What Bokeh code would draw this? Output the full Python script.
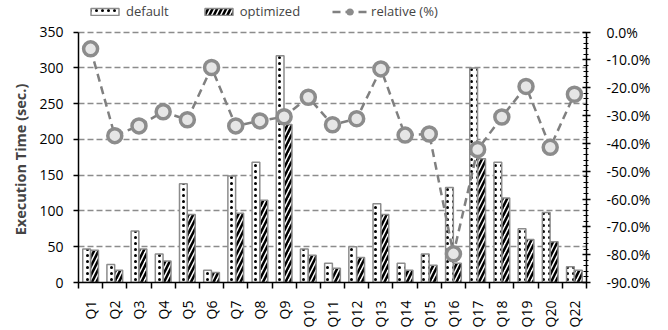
from bokeh.plotting import figure
from bokeh.models import (Range1d, LinearAxis, FixedTicker, SingleIntervalTicker,
                          PrintfTickFormatter, CustomJSTickFormatter, Legend, LegendItem,
                          ColumnDataSource)
from bokeh.embed import file_html
from bokeh.resources import INLINE

categories = ["Q1", "Q2", "Q3", "Q4", "Q5", "Q6", "Q7", "Q8", "Q9", "Q10", "Q11",
              "Q12", "Q13", "Q14", "Q15", "Q16", "Q17", "Q18", "Q19", "Q20", "Q22"]
default = [47, 25, 72, 40, 138, 17, 149, 168, 317, 47, 27, 50, 110, 27, 40, 133, 300, 168, 75, 98, 22]
optimized = [45, 17, 47, 30, 95, 14, 97, 115, 221, 38, 20, 35, 95, 17, 24, 27, 173, 118, 60, 57, 17]
relative = [-6.0, -37.2, -33.7, -28.6, -31.5, -12.7, -33.7, -31.9, -30.4, -23.4, -33.3,
            -31.1, -13.2, -37.0, -36.6, -79.7, -42.2, -30.5, -19.5, -41.4, -22.3]
left_bounds = (0, 350)
right_bounds = (-90, 0)
left_ticks_step = 50
right_ticks_step = 10

FONT = "Open Sans"
n = len(categories)
idx = list(range(n))
src = ColumnDataSource(dict(
    x_def=[i - 0.165 for i in idx],
    x_opt=[i + 0.165 for i in idx],
    x=idx,
    default=default, optimized=optimized, relative=relative))

# Frame spans from y=2 to y=285; the axes themselves only cover 253 px (bounds)
FRAME_H = 283.0
AXIS_H = 253.0
ext = FRAME_H / AXIS_H
left_top = left_bounds[0] + (left_bounds[1] - left_bounds[0]) * ext
right_top = right_bounds[0] + (right_bounds[1] - right_bounds[0]) * ext

p = figure(width=668, height=330, x_range=Range1d(-0.5, n - 0.5),
           y_range=Range1d(left_bounds[0], left_top),
           output_backend="svg", toolbar_location=None,
           min_border_left=78, min_border_right=82, min_border_top=2, min_border_bottom=45)
p.extra_y_ranges = {"pct": Range1d(right_bounds[0], right_top)}
p.outline_line_color = None
p.background_fill_color = "white"

# bars
r_def = p.vbar(x="x_def", top="default", width=0.32, source=src, fill_color="white",
               line_color="#8c8c8c", line_width=1.5, hatch_pattern="dot",
               hatch_color="black", hatch_scale=6, hatch_weight=1.4)
r_opt = p.vbar(x="x_opt", top="optimized", width=0.32, source=src, fill_color="white",
               line_color="#8c8c8c", line_width=1.5, hatch_pattern="right_diagonal_line",
               hatch_color="black", hatch_scale=9, hatch_weight=2.6)

# relative line
r_line = p.line(x="x", y="relative", source=src, y_range_name="pct", line_color="#808080",
                line_width=2.5, line_dash="8 5")
r_pts = p.scatter(x="x", y="relative", source=src, y_range_name="pct", size=14,
                  fill_color="#e6e6e6", line_color="#8c8c8c", line_width=3.5)

# x axis
xa = p.xaxis[0]
xa.ticker = FixedTicker(ticks=idx, minor_ticks=[i - 0.5 for i in range(n + 1)])
xa.formatter = CustomJSTickFormatter(args=dict(labels=categories),
                                     code="return labels[Math.round(tick)] || ''")
xa.major_label_orientation = 3.14159265 / 2
xa.major_tick_out = 0
xa.major_tick_in = 0
xa.minor_tick_out = 6
xa.minor_tick_in = 0
xa.axis_line_color = "black"
xa.axis_line_width = 1.5
xa.minor_tick_line_color = "black"
xa.minor_tick_line_width = 1.5
xa.major_label_text_font = FONT
xa.major_label_text_font_size = "14px"
xa.major_label_text_color = "black"
xa.major_label_standoff = 12

# left axis
ya = p.yaxis[0]
lt = SingleIntervalTicker(interval=left_ticks_step, num_minor_ticks=0)
ya.ticker = lt
ya.bounds = left_bounds
p.ygrid.ticker = lt
p.ygrid.bounds = left_bounds
# trailing no-break spaces centre the title on the 0-350 span rather than the taller frame
ya.axis_label = "Execution Time (sec.)" + "\u00a0" * 9
ya.axis_label_text_font = FONT
ya.axis_label_text_font_style = "bold"
ya.axis_label_text_font_size = "14.5px"
ya.axis_label_standoff = 6
ya.major_label_text_font = FONT
ya.major_label_text_font_size = "14px"
ya.major_label_text_color = "black"
ya.major_tick_out = 5
ya.major_tick_in = 0
ya.minor_tick_line_color = None
ya.axis_line_color = "black"
ya.axis_line_width = 1.5
ya.major_tick_line_width = 1.5
ya.major_label_standoff = 10

p.xgrid.visible = False
p.ygrid.grid_line_color = "#8c8c8c"
p.ygrid.grid_line_dash = "6 3"
p.ygrid.grid_line_width = 1.5

# right axis
ra = LinearAxis(y_range_name="pct",
                ticker=SingleIntervalTicker(interval=right_ticks_step, num_minor_ticks=5),
                formatter=PrintfTickFormatter(format="%.1f%%"), bounds=right_bounds)
ra.major_label_text_font = FONT
ra.major_label_text_font_size = "14px"
ra.major_label_text_color = "black"
ra.axis_line_color = "black"
ra.axis_line_width = 1.5
ra.major_tick_in = 4
ra.major_tick_out = 4
ra.minor_tick_in = 3
ra.minor_tick_out = 2
ra.major_tick_line_width = 1.5
ra.minor_tick_line_color = "black"
ra.major_label_standoff = 16
p.add_layout(ra, "right")

legend = Legend(items=[LegendItem(label="default", renderers=[r_def]),
                       LegendItem(label="optimized", renderers=[r_opt]),
                       LegendItem(label="relative (%)", renderers=[r_line, r_pts])],
                orientation="horizontal", location=(9, 262),
                glyph_width=35, glyph_height=9, spacing=32, padding=0, margin=0,
                label_standoff=4, label_text_font=FONT, label_text_font_size="13px",
                border_line_color=None, background_fill_alpha=0, label_height=12)
p.add_layout(legend)

open("out.html", "w").write(file_html(p, INLINE))
